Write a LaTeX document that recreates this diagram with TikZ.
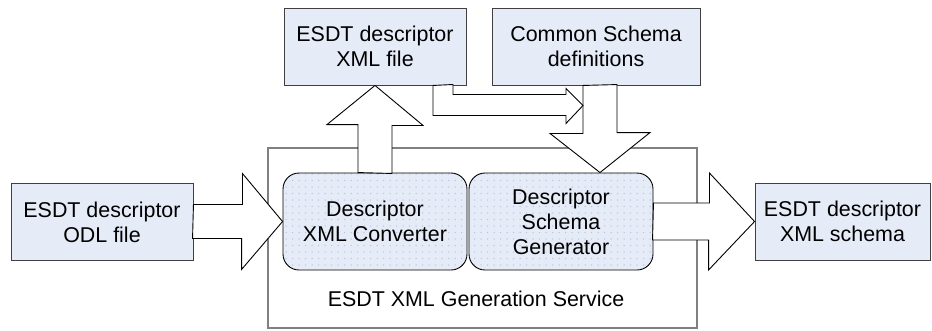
\documentclass[tikz,border=0pt]{standalone}
\usepackage{fontspec}
\setmainfont{Liberation Sans}
\usetikzlibrary{calc,patterns.meta}
\definecolor{boxfill}{HTML}{E6ECF7}
\definecolor{boxline}{HTML}{404040}
\definecolor{dotcol}{HTML}{B9C6DC}
\definecolor{svcline}{HTML}{808080}
\tikzset{
  filebox/.style={draw=boxline, line width=0.9bp, fill=boxfill, minimum height=77bp,
    inner sep=0pt, align=center, font=\fontsize{21.5}{25}\selectfont},
  procbox/.style={draw=black, line width=0.9bp, rounded corners=16bp, minimum width=184bp,
    minimum height=97bp, inner sep=0pt, align=center, font=\fontsize{21.5}{25}\selectfont,
    preaction={fill=boxfill},
    pattern={Dots[distance=6.5bp, radius=0.75bp]}, pattern color=dotcol},
  blockarrow/.style={draw=black, line width=0.9bp, fill=white, line join=miter},
  service/.style={draw=svcline, line width=1.5bp},
}
\begin{document}
\begin{tikzpicture}[x=1bp, y=-1bp]
\useasboundingbox (0,0) rectangle (932,330);

% service frame
\draw[service] (268,148) rectangle (697,328);
\node[font=\fontsize{21.5}{25}\selectfont] (svclabel) at (476,299) {ESDT XML Generation Service};

% data files
\node[filebox, minimum width=182bp] (odl) at (102,222) {ESDT descriptor\\ODL file};
\node[filebox, minimum width=182bp] (xmlfile) at (375,46.5) {ESDT descriptor\\XML file};
\node[filebox, minimum width=208bp] (common) at (596,46.5) {Common Schema\\definitions};
\node[filebox, minimum width=175bp] (schema) at (842.5,221.5) {ESDT descriptor\\XML schema};

% processing stages
\node[procbox] (conv) at (375,221.5) {Descriptor\\XML Converter};
\node[procbox] (gen) at (561,221.5) {Descriptor\\Schema\\Generator};

% ODL file -> converter
\draw[blockarrow] (odl.east) ++(0,-17.5) -- ++(49,0) -- ++(0,-31) -- (conv.west)
  -- ++(-41,48) -- ++(0,-31) -- ++(-49,0) -- cycle;

% converter -> XML file
\draw[blockarrow] (conv.north) ++(-17,0) -- ++(0,-48) -- ++(-31,0) -- (xmlfile.south)
  -- ++(48,40) -- ++(-31,0) -- ++(0,48) -- cycle;

% generator -> XML schema
\draw[blockarrow] (gen.east) ++(0,-18.5) -- ++(56,0) -- ++(0,-30) -- (schema.west)
  -- ++(-46,48.5) -- ++(0,-30) -- ++(-56,0) -- cycle;

% common definitions -> generator
\coordinate (dtail) at ({600,0} |- common.south);
\coordinate (dtip) at ({600,0} |- gen.north);
\draw[blockarrow] (dtail) ++(-17,0) -- ++(0,48) -- ++(-33,0) -- (dtip)
  -- ++(50,-40) -- ++(-33,0) -- ++(0,-48) -- cycle;

% XML file -> generator input (bent arrow)
\coordinate (btail) at ({443,0} |- xmlfile.south);
\coordinate (btip) at (583,105.5);
\draw[blockarrow] (btail) ++(-10,0) -- ++(0,30) -- ++(133,0) -- ++(0,8) -- (btip)
  -- ++(-17,-17) -- ++(0,6) -- ++(-113,0) -- ++(0,-10) -- cycle;
\end{tikzpicture}
\end{document}
